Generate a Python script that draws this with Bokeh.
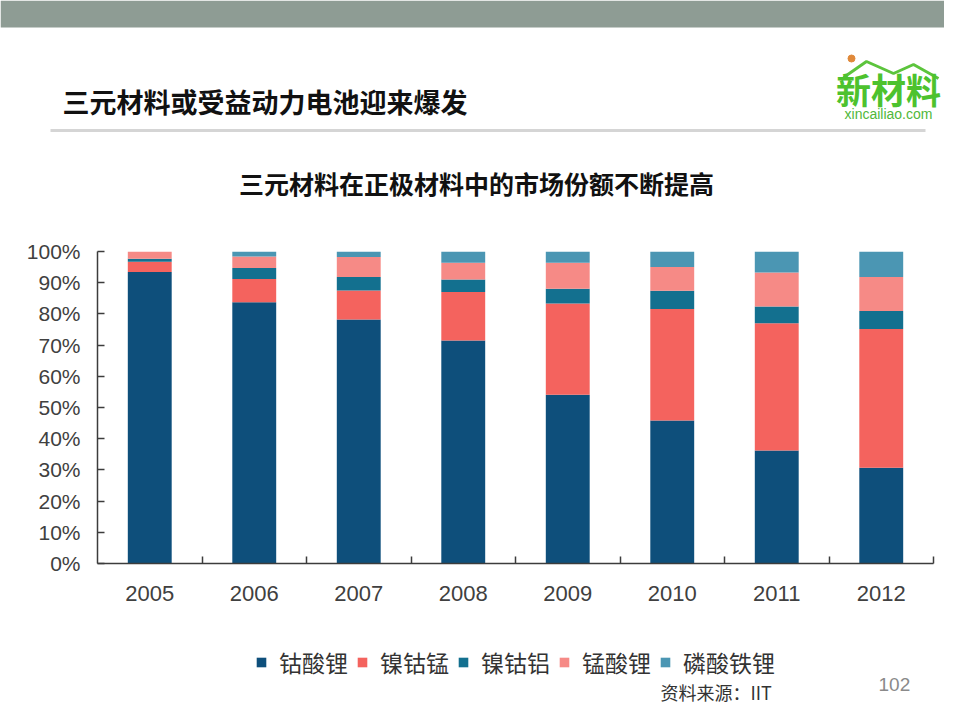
from bokeh.plotting import figure
from bokeh.models import Range1d, FixedTicker, PrintfTickFormatter, Legend, LegendItem, ColumnDataSource
from bokeh.layouts import column
from bokeh.core.properties import value
from bokeh.embed import file_html
from bokeh.resources import INLINE

# ---- data (market share of cathode materials, %) ----
years = ["2005", "2006", "2007", "2008", "2009", "2010", "2011", "2012"]
series_names = ["钴酸锂", "镍钴锰", "镍钴铝", "锰酸锂", "磷酸铁锂"]
lco = [93.4, 83.7, 78.2, 71.5, 54.1, 45.8, 36.2, 30.7]
ncm = [3.3, 7.5, 9.3, 15.5, 29.2, 35.8, 40.8, 44.5]
nca = [1.0, 3.5, 4.3, 4.0, 4.8, 5.8, 5.4, 5.7]
lmo = [2.3, 3.7, 6.4, 5.4, 8.3, 7.6, 10.9, 10.9]
lfp = [0.0, 1.6, 1.8, 3.6, 3.6, 5.0, 6.7, 8.2]
y_ticks = list(range(0, 101, 10))

colors = ["#0e4f7b", "#f4635e", "#13708f", "#f68a86", "#4b96b3"]
CJK = "Noto Sans CJK SC"
LAT = "Liberation Sans"
W = 944


def blank(h, y0, y1):
    f = figure(width=W, height=h, x_range=Range1d(0, W), y_range=Range1d(y1, y0),
               output_backend="svg", toolbar_location=None, min_border=0)
    f.axis.visible = False
    f.grid.visible = False
    f.outline_line_color = None
    f.frame_align = False
    return f


# ---- header (slide title, logo, chart title) : page y 0..225 ----
hdr = blank(225, 0, 225)
hdr.quad(left=[0], right=[W], top=[0], bottom=[27], color="#8e9c94", line_color=None)
hdr.text(x=[62], y=[101], text=["三元材料或受益动力电池迎来爆发"], text_font=value(CJK),
         text_font_style="bold", text_font_size="27px", text_baseline="middle",
         text_align="left", text_color="#111111")
hdr.segment(x0=[50], y0=[130], x1=[925], y1=[130], line_color="#d5d5d5", line_width=3)
hdr.line(x=[843, 866, 893, 913, 938], y=[77, 61, 73, 64, 78], line_color="#5cc43c", line_width=3)
hdr.scatter(x=[851], y=[58], size=7, color="#e0893a")
hdr.text(x=[888], y=[88], text=["新材料"], text_font=value(CJK), text_font_style="bold",
         text_font_size="35px", text_baseline="middle", text_align="center", text_color="#4dc22e")
hdr.text(x=[888], y=[113], text=["xincailiao.com"], text_font=value(LAT),
         text_font_size="14px", text_baseline="middle", text_align="center", text_color="#4fb83a")
hdr.text(x=[476], y=[182], text=["三元材料在正极材料中的市场份额不断提高"], text_font=value(CJK),
         text_font_style="bold", text_font_size="25px", text_baseline="middle",
         text_align="center", text_color="#111111")

# ---- chart : page y 225..620 ----
p = figure(width=W, height=395, x_range=Range1d(0, 8), y_range=Range1d(0, 100),
           output_backend="svg", toolbar_location=None,
           min_border_left=97, min_border_right=11, min_border_top=26, min_border_bottom=57)
p.grid.visible = False
p.outline_line_color = None
p.frame_align = False

src = ColumnDataSource(dict(x=[i + 0.5 for i in range(len(years))],
                            lco=lco, ncm=ncm, nca=nca, lmo=lmo, lfp=lfp))
rs = p.vbar_stack(["lco", "ncm", "nca", "lmo", "lfp"], x="x", width=0.42, source=src,
                  color=colors, line_color=None)

ya = p.yaxis[0]
ya.ticker = FixedTicker(ticks=y_ticks)
ya.formatter = PrintfTickFormatter(format="%d%%")
ya.major_tick_in = 7
ya.major_tick_out = 0
ya.minor_tick_line_color = None
ya.axis_line_color = "#3c3c3c"
ya.axis_line_width = 1.5
ya.major_tick_line_color = "#3c3c3c"
ya.major_tick_line_width = 1.5
ya.major_label_text_font = LAT
ya.major_label_text_font_size = "21px"
ya.major_label_text_color = "#404040"
ya.major_label_standoff = 17

xa = p.xaxis[0]
xa.ticker = FixedTicker(ticks=[i + 0.5 for i in range(len(years))],
                        minor_ticks=list(range(1, len(years) + 1)))
xa.major_label_overrides = {i + 0.5: y for i, y in enumerate(years)}
xa.major_tick_in = 0
xa.major_tick_out = 0
xa.minor_tick_in = 7
xa.minor_tick_out = 0
xa.minor_tick_line_color = "#3c3c3c"
xa.minor_tick_line_width = 1.5
xa.axis_line_color = "#3c3c3c"
xa.axis_line_width = 1.5
xa.major_label_text_font = LAT
xa.major_label_text_font_size = "22px"
xa.major_label_text_color = "#404040"
xa.major_label_standoff = 22

# ---- footer (legend, page number, source) : page y 620..704 ----
ftr = blank(84, 620, 704)
# zero-size legend proxies carrying the series colours
swatches = [ftr.vbar(x=[0], top=[0], bottom=[0], width=0, color=c, line_color=None) for c in colors]
legend = Legend(items=[LegendItem(label=n, renderers=[r]) for n, r in zip(series_names, swatches)],
                orientation="horizontal", location=(255, 25), glyph_width=12, glyph_height=12,
                label_standoff=12, spacing=8, padding=0, margin=0, border_line_color=None,
                background_fill_alpha=0, label_text_font=CJK, label_text_font_size="23px",
                label_text_color="#333333", label_height=30)
ftr.add_layout(legend)
ftr.text(x=[878], y=[684], text=["102"], text_font=value(LAT), text_font_size="19px",
         text_color="#8a8a8a", text_baseline="middle", text_align="left")
ftr.text(x=[660], y=[691], text=["资料来源：IIT"], text_font=value(CJK), text_font_size="18px",
         text_color="#333333", text_baseline="middle", text_align="left")

layout = column(hdr, p, ftr, spacing=0)
open("out.html", "w").write(file_html(layout, INLINE))
